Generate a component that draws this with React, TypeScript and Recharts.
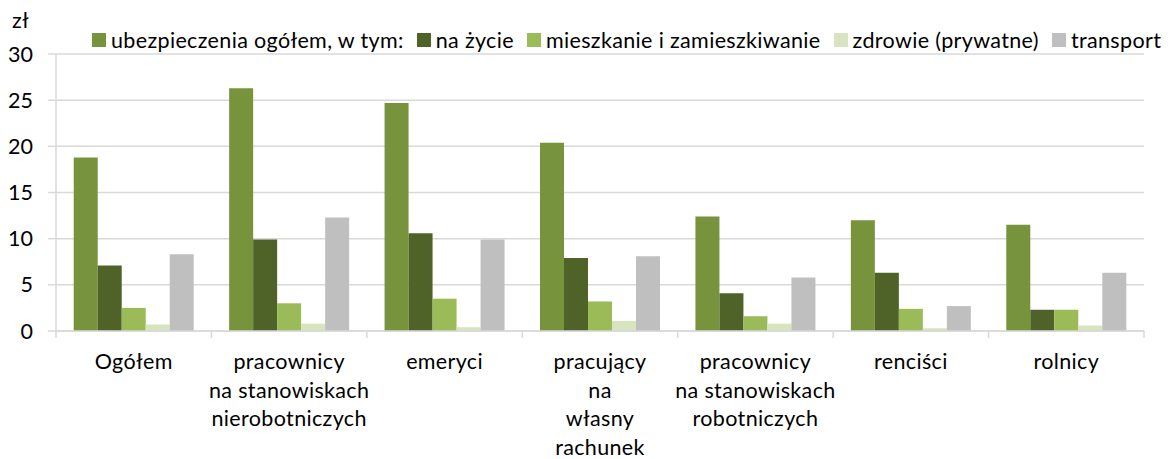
import React from 'react';
import { BarChart, Bar, XAxis, YAxis, CartesianGrid } from 'recharts';

const CATEGORIES = [
  'Ogółem',
  'pracownicy\nna stanowiskach\nnierobotniczych',
  'emeryci',
  'pracujący\nna\nwłasny\nrachunek',
  'pracownicy\nna stanowiskach\nrobotniczych',
  'renciści',
  'rolnicy',
];

const SERIES_NAMES = [
  'ubezpieczenia ogółem, w tym:',
  'na życie',
  'mieszkanie i zamieszkiwanie',
  'zdrowie (prywatne)',
  'transport',
];

const OGOLEM = [18.8, 26.3, 24.7, 20.4, 12.4, 12.0, 11.5];
const ZYCIE = [7.1, 9.9, 10.6, 7.9, 4.1, 6.3, 2.3];
const MIESZKANIE = [2.5, 3.0, 3.5, 3.2, 1.6, 2.4, 2.3];
const ZDROWIE = [0.7, 0.8, 0.4, 1.1, 0.8, 0.3, 0.6];
const TRANSPORT = [8.3, 12.3, 9.9, 8.1, 5.8, 2.7, 6.3];

const Y_TICKS = [0, 5, 10, 15, 20, 25, 30];
const UNIT = 'zł';

const COLORS = ['#77933C', '#4F6228', '#9BBB59', '#D7E4BD', '#BFBFBF'];
const KEYS = ['s0', 's1', 's2', 's3', 's4'];
const SERIES = [OGOLEM, ZYCIE, MIESZKANIE, ZDROWIE, TRANSPORT];

const data = CATEGORIES.map((c, i) => {
  const row: any = { name: c };
  SERIES.forEach((s, k) => {
    row[KEYS[k]] = s[i];
  });
  return row;
});

const FONT = 'Lato, "Open Sans", sans-serif';
const FS = 21.5;
const LS = 0.35;
const W = 1156;
const H = 451;
const M = { top: 46, right: 20, left: 0, bottom: 0 };
const YW = 48;
const BAND = (W - M.left - M.right - YW) / CATEGORIES.length;
const GRID = '#D9D9D9';

const XTick = (props: any) => {
  const { x, y, payload, index } = props;
  const lines = String(payload.value).split('\n');
  return (
    <g>
      <line x1={x - BAND / 2} x2={x - BAND / 2} y1={y} y2={y + 7} stroke={GRID} strokeWidth={1.5} />
      {index === CATEGORIES.length - 1 && (
        <line x1={x + BAND / 2} x2={x + BAND / 2} y1={y} y2={y + 7} stroke={GRID} strokeWidth={1.5} />
      )}
      <text
        x={x}
        y={y}
        textAnchor="middle"
        fontFamily={FONT}
        fontSize={FS}
        letterSpacing={LS}
        fill="#000"
      >
        {lines.map((l, i) => (
          <tspan key={i} x={x} y={y + 38 + i * 28.7}>
            {l}
          </tspan>
        ))}
      </text>
    </g>
  );
};

export default function App() {
  return (
    <div style={{ position: 'relative', width: W, height: H, fontFamily: FONT }}>
      <div
        style={{
          position: 'absolute',
          left: 4,
          top: 2,
          fontSize: FS,
          letterSpacing: LS,
          lineHeight: '20px',
          color: '#000',
        }}
      >
        {UNIT}
      </div>
      <div
        style={{
          position: 'absolute',
          left: 84,
          top: 25,
          display: 'flex',
          alignItems: 'center',
          fontSize: FS,
          letterSpacing: LS,
          lineHeight: '14px',
          color: '#000',
          whiteSpace: 'nowrap',
        }}
      >
        {SERIES_NAMES.map((n, k) => (
          <div key={k} style={{ display: 'flex', alignItems: 'center', marginRight: 13 }}>
            <div style={{ width: 14, height: 14, background: COLORS[k], marginRight: 5 }} />
            <span>{n}</span>
          </div>
        ))}
      </div>
      <BarChart
        width={W}
        height={H}
        data={data}
        margin={M}
        barGap={0}
        barCategoryGap="11.4%"
      >
        <CartesianGrid vertical={false} stroke={GRID} strokeWidth={1.5} />
        <XAxis
          dataKey="name"
          height={128}
          interval={0}
          tickLine={false}
          tickSize={0}
          tickMargin={0}
          axisLine={{ stroke: GRID, strokeWidth: 1.5 }}
          tick={<XTick />}
        />
        <YAxis
          width={YW}
          domain={[0, 30]}
          ticks={Y_TICKS}
          interval={0}
          axisLine={{ stroke: GRID, strokeWidth: 1.5 }}
          tickLine={{ stroke: GRID, strokeWidth: 1.5 }}
          tickSize={8}
          tickMargin={15}
          tick={{ fontFamily: FONT, fontSize: FS, fill: '#000' }}
        />
        {KEYS.map((k, i) => (
          <Bar key={k} dataKey={k} name={SERIES_NAMES[i]} fill={COLORS[i]} isAnimationActive={false} />
        ))}
      </BarChart>
    </div>
  );
}
